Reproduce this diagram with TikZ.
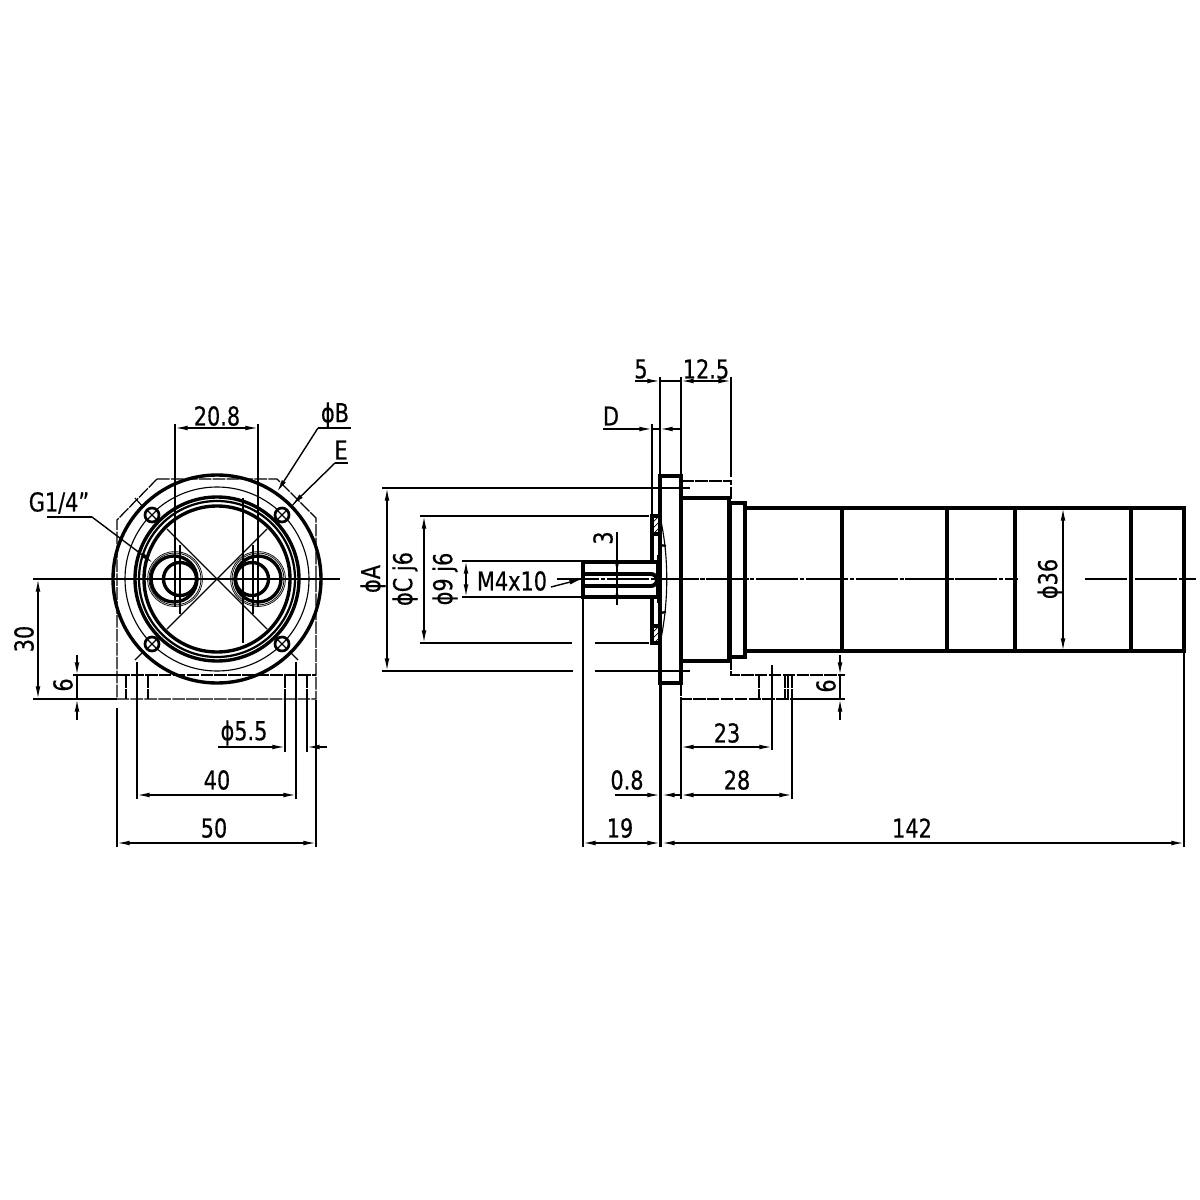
\documentclass[tikz,border=0pt]{standalone}
\usepackage{fontspec}
\setmainfont[FakeStretch=0.8,FakeBold=0.4]{DejaVu Sans}
\usetikzlibrary{arrows.meta}
\tikzset{
 heavy/.style={line width=2.8pt,line cap=butt,line join=miter},
 heavyc/.style={line width=2.4pt},
 med/.style={line width=1.6pt},
 thin1/.style={line width=0.8pt},
 hair/.style={line width=0.5pt},
 dim/.style={line width=1pt,{Latex[length=9pt,width=3.4pt]}-{Latex[length=9pt,width=3.4pt]}},
 dimr/.style={line width=1pt,-{Latex[length=9pt,width=3.4pt]}},
 ext/.style={line width=1pt},
 hid/.style={line width=0.9pt,dash pattern=on 9pt off 0.9pt},
 ctr/.style={line width=0.9pt,dash pattern=on 30pt off 1.2pt on 3pt off 1.2pt},
 lab/.style={inner sep=0pt,font=\fontsize{18.5}{20}\selectfont},
 labr/.style={lab,rotate=90},
}
\begin{document}
\begin{tikzpicture}[x=0.025cm,y=-0.025cm]
\useasboundingbox (0,0) rectangle (1200,1200);
% ---------- front view ----------
\draw[hid] (157,479)--(277,479)--(316,518)--(316,699)--(117,699)--(117,520)--cycle;
\draw[hid] (117,675)--(316,675);
\foreach \x in {126,148,285,307} \draw[hid] (\x,675)--(\x,699);
\draw[ext] (117,699)--(33,699);
\draw[ext] (117,675)--(73,675);
\draw[line width=1pt] (33,579)--(340,579);
% circles
\draw[heavyc] (217,579) circle (104);
\draw[thin1] (217,579) circle (92);
\draw[heavyc] (217,579) circle (82);
\draw[med] (217,579) circle (78);
\draw[heavyc] (217,579) circle (73);
% diagonals
\draw[thin1] (167,529)--(267,629) (267,529)--(167,629);
\draw[thin1] (135,498)--(143,507) (299,498)--(291,507) (135,660)--(143,652) (298,660)--(290,652);
% bolts
\foreach \x/\y in {152/515,282/515,152/644,282/644}{
 \draw[fill=white,line width=1.9pt] (\x,\y) circle (7);
 \draw[thin1] (\x-4.5,\y-4.5)--(\x+4.5,\y+4.5) (\x+4.5,\y-4.5)--(\x-4.5,\y+4.5);
}
% ports
\draw[hair] (175,579) circle (26) (175,579) circle (27.5);
\draw[hair] (258,579) circle (26) (258,579) circle (27.5);
\draw[heavyc] (174,579) circle (23);
\draw[heavyc] (180,579) circle (16.5);
\draw[heavyc] (258,579) circle (23);
\draw[heavyc] (252,579) circle (16.5);
\draw[thin1] (175,424)--(175,607) (258,424)--(258,607);
\draw[thin1] (180,545)--(180,614) (253,545)--(253,614) (243,498)--(243,643);
% front dimensions
\draw[dim] (175,428)--(258,428);
\node[lab] (t208) at (217,416) {20.8};
\draw[dim] (38,579)--(38,699);
\node[labr] (t30) at (24,639) {30};
\draw[dimr] (77,655)--(77,675);
\draw[dimr] (77,720)--(77,699);
\draw[ext] (77,675)--(77,699);
\node[labr] (t6a) at (63,685) {6};
\draw[ext] (117,708)--(117,847) (316,700)--(316,847);
\draw[ext] (137,662)--(137,799) (296,662)--(296,799);
\draw[ext] (285,699)--(285,752) (307,699)--(307,752);
\draw[dimr] (218,747)--(285,747);
\draw[dimr] (327,747)--(307,747);
\node[lab] (t55) at (244,733) {ϕ5.5};
\draw[dim] (137,795)--(296,795);
\node[lab] (t40) at (217,780) {40};
\draw[dim] (117,843)--(316,843);
\node[lab] (t50) at (214,828) {50};
% leaders
\draw[dimr] (318,428)--(277,492);
\draw[ext] (318,428)--(351,428);
\node[lab] (tB) at (335,415) {ϕB};
\draw[dimr] (335,463)--(292,505);
\draw[ext] (335,463)--(348,463);
\node[lab] (tE) at (341,450) {E};
\draw[dimr] (92,517)--(153,563);
\draw[ext] (92,517)--(47,517);
\node[lab] (tG) at (59,503) {G1/4"};
% ---------- side view ----------
\draw[hid] (681,481)--(731,481)--(731,503);
\draw[hid] (731,657)--(731,675)--(842,675);
\draw[hid] (681,683)--(681,699)--(792,699);
\foreach \x in {759,785,788,792} \draw[hid] (\x,675)--(\x,699);
% extension lines A / C / 9
\draw[line width=1.1pt] (382,488)--(690,488);
\draw[line width=1.1pt] (382,671)--(573,671) (595,671)--(690,671);
\draw[ext] (420,516)--(649,516);
\draw[ext] (420,643)--(572,643) (595,643)--(649,643);
\draw[ext] (462,561)--(583,561) (462,597)--(583,597);
\draw[dim] (387,488)--(387,671);
\draw[dim] (424,516)--(424,643);
\draw[dim] (466,561)--(466,597);
\node[labr] (tA) at (373,579) {ϕA};
\node[labr] (tC) at (405,579) {ϕC j6};
\node[labr] (t9) at (445,579) {ϕ9 j6};
\node[lab] (tM) at (512,581) {M4x10};
\draw[dimr] (551,587)--(582,579);
% centre line
\draw[ctr] (557,579)--(1018,579);
\draw[ctr] (1085,579)--(1196,579);
% shaft
\draw[heavy] (583,562) rectangle (658,597);
\draw[heavy] (583,574)--(651,574) arc (-90:90:6)--(583,586);
\draw[line width=3pt] (659,555)--(659,603);
% pilot
\draw[heavy] (660,516)--(652,516)--(652,562);
\draw[heavy] (652,534)--(660,534);
\draw[heavy] (652,597)--(652,643)--(660,643);
\draw[heavy] (652,626)--(660,626);
\foreach \y in {522,528,534,632,638,644} \draw[hair] (653,\y)--(660,\y-7);
\draw[thin1] (660,517) .. controls (669,555) and (669,603) .. (660,643);
\draw[line width=1.6pt] (660,545)--(666,546) (660,613)--(666,612);
% flange and body
\draw[heavy] (660,476) rectangle (681,683);
\draw[heavy] (681,498)--(729,498)--(729,661)--(681,661);
\draw[heavy] (730,503)--(745,503)--(745,657)--(730,657)--cycle;
\draw[heavy] (745,508)--(1184,508)--(1184,651)--(745,651);
\foreach \x in {842,947,1015,1131} \draw[heavy] (\x,508)--(\x,651);
% side dimensions
\draw[ext] (660,377)--(660,476) (681,377)--(681,476) (731,377)--(731,477);
\draw[ext] (652,424)--(652,515);
\draw[dimr] (635,381)--(660,381);
\draw[ext] (660,381)--(681,381);
\draw[dim] (681,381)--(731,381);
\node[lab] (t5) at (641,369) {5};
\node[lab] (t125) at (706,369) {12.5};
\draw[dimr] (603,429)--(652,429);
\draw[dimr] (681,429)--(660,429);
\draw[ext] (652,429)--(660,429);
\node[lab] (tD) at (611,416) {D};
% 3
\draw[ext] (617,532)--(617,605);
\draw[dimr] (617,562)--(617,574);
\draw[dimr] (617,597)--(617,586);
\node[labr] (t3) at (603,538) {3};
% phi 36
\draw[dim] (1063,508)--(1063,651);
\node[labr] (t36) at (1050,579) {ϕ36};
% lower
\draw[ext] (772,665)--(772,750) (792,699)--(792,799);
\draw[ext] (681,700)--(681,799);
\draw[ext] (583,597)--(583,847) (660,683)--(660,847) (661.5,683)--(661.5,847) (1184,651)--(1184,847);
\draw[ext] (792,699)--(845,699) (842,675)--(845,675);
\draw[dimr] (840,655)--(840,675);
\draw[dimr] (840,720)--(840,699);
\draw[ext] (840,675)--(840,699);
\node[labr] (t6b) at (826,686) {6};
\draw[dim] (681,747)--(772,747);
\node[lab] (t23) at (727,733) {23};
\draw[dim] (681,795)--(792,795);
\node[lab] (t28) at (737,780) {28};
\draw[dimr] (615,795)--(660,795);
\draw[dimr] (681,795)--(662,795);
\node[lab] (t08) at (627,780) {0.8};
\draw[dim] (583,843)--(660,843);
\node[lab] (t19) at (620,828) {19};
\draw[dim] (662,843)--(1184,843);
\node[lab] (t142) at (912,828) {142};
\end{tikzpicture}
\end{document}
